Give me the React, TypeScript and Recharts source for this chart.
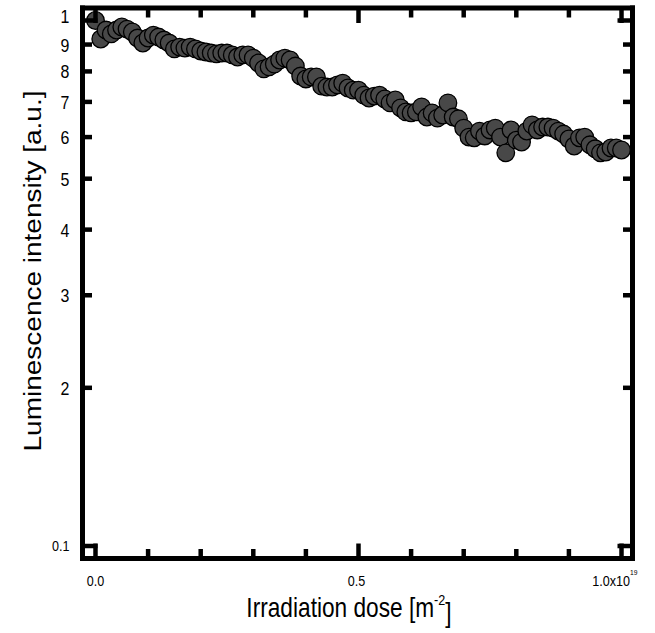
import { ScatterChart, Scatter, XAxis, YAxis, Customized } from "recharts";

// dose in units of 1e19 m^-2
const dose = [
  0.0, 0.01, 0.02, 0.03, 0.04, 0.05, 0.06, 0.07, 0.08, 0.09,
  0.1, 0.11, 0.12, 0.13, 0.14, 0.15, 0.16, 0.17, 0.18, 0.19,
  0.2, 0.21, 0.22, 0.23, 0.24, 0.25, 0.26, 0.27, 0.28, 0.29,
  0.3, 0.31, 0.32, 0.33, 0.34, 0.35, 0.36, 0.37, 0.38, 0.39,
  0.4, 0.41, 0.42, 0.43, 0.44, 0.45, 0.46, 0.47, 0.48, 0.49,
  0.5, 0.51, 0.52, 0.53, 0.54, 0.55, 0.56, 0.57, 0.58, 0.59,
  0.6, 0.61, 0.62, 0.63, 0.64, 0.65, 0.66, 0.67, 0.68, 0.69,
  0.7, 0.71, 0.72, 0.73, 0.74, 0.75, 0.76, 0.77, 0.78, 0.79,
  0.8, 0.81, 0.82, 0.83, 0.84, 0.85, 0.86, 0.87, 0.88, 0.89,
  0.9, 0.91, 0.92, 0.93, 0.94, 0.95, 0.96, 0.97, 0.98, 0.99,
  1.0,
];

const intensity = [
  1.0, 0.922, 0.959, 0.943, 0.959, 0.972, 0.963, 0.951, 0.926, 0.906,
  0.926, 0.938, 0.93, 0.918, 0.906, 0.883, 0.89, 0.886, 0.89, 0.883,
  0.875, 0.871, 0.867, 0.864, 0.867, 0.867, 0.86, 0.852, 0.86, 0.86,
  0.848, 0.83, 0.809, 0.816, 0.826, 0.841, 0.848, 0.841, 0.819, 0.784,
  0.774, 0.781, 0.781, 0.75, 0.747, 0.747, 0.754, 0.76, 0.744, 0.737,
  0.737, 0.721, 0.712, 0.718, 0.721, 0.709, 0.697, 0.706, 0.682, 0.67,
  0.667, 0.67, 0.685, 0.655, 0.667, 0.652, 0.661, 0.697, 0.655, 0.65,
  0.624, 0.6, 0.598, 0.616, 0.603, 0.619, 0.624, 0.6, 0.56, 0.619,
  0.592, 0.587, 0.616, 0.633, 0.619, 0.627, 0.627, 0.624, 0.616, 0.608,
  0.595, 0.577, 0.598, 0.6, 0.58, 0.57, 0.56, 0.562, 0.572, 0.572,
  0.567,
];

const xTicks = [0, 0.1, 0.2, 0.3, 0.4, 0.5, 0.6, 0.7, 0.8, 0.9, 1.0];
const xMajor = [0, 0.5, 1.0];
const yTicks = [0.1, 0.2, 0.3, 0.4, 0.5, 0.6, 0.7, 0.8, 0.9, 1];
const yTickLabels = ["0.1", "2", "3", "4", "5", "6", "7", "8", "9", "1"];
const yMajor = [0.1, 1];

const data = dose.map((d, i) => ({ d, v: intensity[i] }));

const FONT = "'Liberation Sans', Arial, Helvetica, sans-serif";
const TICK_W = 4.5;
const MAJOR = 15;
const MINOR = 9.5;
// the original figure is a little squeezed sideways
const SQ = 0.84;

const near = (a: number, b: number) => Math.abs(a - b) < 1e-6;

function BottomTick(props: any) {
  const { x, y, payload } = props;
  const major = xMajor.some((m) => near(m, payload.value));
  const len = major ? MAJOR : MINOR;
  let label: any = null;
  if (near(payload.value, 0)) {
    label = (
      <text transform={`translate(${x}, ${y + 27}) scale(${SQ},1)`} textAnchor="middle" fontSize={15} fontFamily={FONT}>
        0.0
      </text>
    );
  } else if (near(payload.value, 0.5)) {
    label = (
      <text transform={`translate(${x - 2}, ${y + 27}) scale(${SQ},1)`} textAnchor="middle" fontSize={15} fontFamily={FONT}>
        0.5
      </text>
    );
  } else if (near(payload.value, 1)) {
    label = (
      <text transform={`translate(${x + 16}, ${y + 27}) scale(${SQ},1)`} textAnchor="end" fontSize={15} fontFamily={FONT}>
        1.0x10
        <tspan dy={-11} fontSize={8}>19</tspan>
      </text>
    );
  }
  return (
    <g>
      <line x1={x} x2={x} y1={y} y2={y - len} stroke="#000" strokeWidth={TICK_W} />
      {label}
    </g>
  );
}

function TopTick(props: any) {
  const { x, y, payload } = props;
  const major = xMajor.some((m) => near(m, payload.value));
  const len = major ? MAJOR : MINOR;
  return <line x1={x} x2={x} y1={y} y2={y + len} stroke="#000" strokeWidth={TICK_W} />;
}

function LeftTick(props: any) {
  const { x, y, payload } = props;
  const major = yMajor.some((m) => near(m, payload.value));
  const len = major ? MAJOR : MINOR;
  const idx = yTicks.findIndex((t) => near(t, payload.value));
  const small = near(payload.value, 0.1);
  const dy = near(payload.value, 1) ? -5 : 0;
  return (
    <g>
      <line x1={x} x2={x + len} y1={y} y2={y} stroke="#000" strokeWidth={TICK_W} />
      <text
        transform={`translate(${x - 13}, ${y + dy + (small ? 5 : 7)}) scale(${SQ},1)`}
        textAnchor="end"
        fontSize={small ? 15 : 19}
        fontFamily={FONT}
      >
        {yTickLabels[idx]}
      </text>
    </g>
  );
}

function RightTick(props: any) {
  const { x, y, payload } = props;
  const major = yMajor.some((m) => near(m, payload.value));
  const len = major ? MAJOR : MINOR;
  return <line x1={x} x2={x - len} y1={y} y2={y} stroke="#000" strokeWidth={TICK_W} />;
}

function Titles() {
  return (
    <g fontFamily={FONT} fill="#000">
      <text
        transform={`translate(41, 271) rotate(-90) scale(1, ${SQ})`}
        textAnchor="middle"
        fontSize={28}
      >
        Luminescence intensity [a.u.]
      </text>
      <text transform={`translate(349, 617) scale(${SQ}, 1)`} textAnchor="middle" fontSize={27}>
        Irradiation dose [m
        <tspan dy={-12} fontSize={15}>-2</tspan>
        <tspan dy={17}>]</tspan>
      </text>
    </g>
  );
}

const axisLine = { stroke: "#000", strokeWidth: 5, strokeLinecap: "square" as const };

export default function App() {
  return (
    <div style={{ position: "absolute", left: 0, top: 0, background: "#fff" }}>
      <ScatterChart
        width={655}
        height={633}
        margin={{ top: 7, right: 21.5, bottom: 73.5, left: 81.5 }}
      >
        <XAxis
          xAxisId="b"
          dataKey="d"
          type="number"
          domain={[-0.0247, 1.0209]}
          allowDataOverflow
          ticks={xTicks}
          interval={0}
          height={1}
          tickSize={0}
          tickMargin={0}
          tickLine={false}
          axisLine={axisLine}
          tick={(p: any) => <BottomTick {...p} />}
        />
        <XAxis
          xAxisId="t"
          orientation="top"
          dataKey="d"
          type="number"
          domain={[-0.0247, 1.0209]}
          allowDataOverflow
          ticks={xTicks}
          interval={0}
          height={1}
          tickSize={0}
          tickMargin={0}
          tickLine={false}
          axisLine={axisLine}
          tick={(p: any) => <TopTick {...p} />}
        />
        <YAxis
          yAxisId="l"
          dataKey="v"
          type="number"
          scale="log"
          domain={[0.09467, 1.0563]}
          allowDataOverflow
          ticks={yTicks}
          interval={0}
          width={1}
          tickSize={0}
          tickMargin={0}
          tickLine={false}
          axisLine={axisLine}
          tick={(p: any) => <LeftTick {...p} />}
        />
        <YAxis
          yAxisId="r"
          orientation="right"
          dataKey="v"
          type="number"
          scale="log"
          domain={[0.09467, 1.0563]}
          allowDataOverflow
          ticks={yTicks}
          interval={0}
          width={1}
          tickSize={0}
          tickMargin={0}
          tickLine={false}
          axisLine={axisLine}
          tick={(p: any) => <RightTick {...p} />}
        />
        <Scatter
          data={data}
          xAxisId="b"
          yAxisId="l"
          isAnimationActive={false}
          shape={(p: any) => (
            <circle cx={p.cx} cy={p.cy} r={8.8} fill="#484848" stroke="#000" strokeWidth={1.3} />
          )}
        />
        <Customized component={Titles} />
      </ScatterChart>
    </div>
  );
}
